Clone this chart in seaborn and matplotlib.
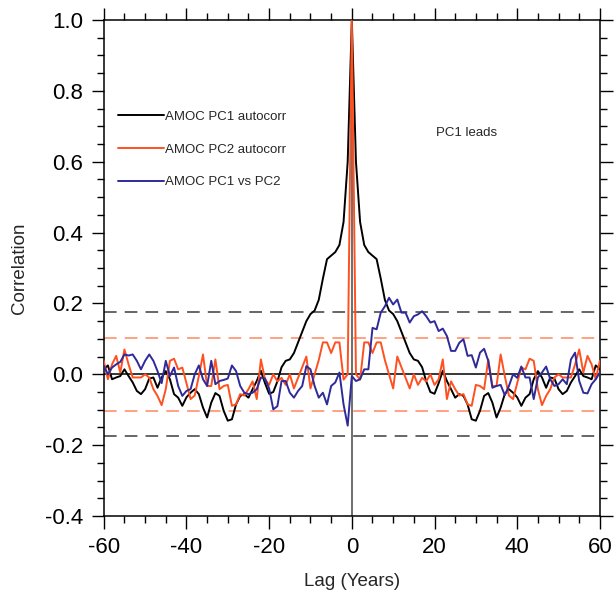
import numpy as np
import pandas as pd
import seaborn as sns
import matplotlib
matplotlib.use("Agg")
from matplotlib import pyplot as plt
from matplotlib.ticker import MultipleLocator

# lags in years
lags = list(range(-60, 61))

# one-sided autocorrelations (lag 0..60), mirrored for negative lags
pc1_acf_half = [1.0, 0.60, 0.43, 0.365, 0.345, 0.335, 0.325, 0.27, 0.21, 0.18,
                0.17, 0.15, 0.12, 0.09, 0.06, 0.042, 0.038, 0.02, -0.02, -0.05,
                -0.055, -0.025, 0.010, -0.019, -0.042, -0.066, -0.056, -0.061, -0.085, -0.127,
                -0.131, -0.103, -0.061, -0.053, -0.080, -0.122, -0.094, -0.056, -0.042, -0.052,
                -0.065, -0.089, -0.066, -0.056, -0.014, 0.009, -0.009, -0.038, -0.009, -0.012,
                -0.042, -0.056, -0.047, -0.023, -0.005, 0.014, -0.005, -0.009, -0.014, 0.025,
                0.014]
pc2_acf_half = [1.0, 0.0, -0.015, 0.09, 0.09, 0.06, 0.09, 0.09, 0.04, 0.0,
                -0.04, 0.05, 0.02, -0.01, -0.04, 0.0, -0.03, -0.01, -0.02, 0.0,
                -0.03, -0.014, 0.042, -0.07, -0.02, -0.042, -0.06, -0.056, -0.085, -0.089,
                -0.03, -0.033, -0.042, 0.042, -0.033, -0.033, 0.056, -0.005, -0.06, -0.07,
                -0.025, 0.019, 0.014, 0.044, 0.038, -0.042, -0.087, -0.061, -0.042, -0.009,
                0.0, -0.009, -0.009, -0.009, 0.028, 0.07, 0.005, 0.052, 0.028, -0.014,
                0.038]
# cross-correlation PC1 vs PC2, lag -60..60
pc1_pc2 = [0.024, 0.0, 0.019, 0.028, 0.035, 0.056, 0.053, 0.056, 0.038, 0.014,
           0.038, 0.056, 0.038, 0.009, -0.025, 0.038, -0.005, 0.019, -0.033, -0.061,
           -0.047, -0.042, 0.0, 0.025, -0.014, -0.033, 0.038, -0.028, -0.019, -0.016,
           -0.012, 0.025, 0.009, -0.033, -0.052, -0.056, -0.052, -0.042, -0.009, -0.012,
           -0.04, -0.099, -0.09, -0.019, -0.019, -0.052, -0.066, -0.047, -0.033, 0.023,
           0.014, -0.033, -0.066, -0.052, -0.085, -0.033, -0.023, 0.005, -0.085, -0.145,
           -0.005, -0.019, -0.014, 0.014, 0.014, 0.131, 0.127, 0.174, 0.192, 0.216,
           0.197, 0.211, 0.174, 0.174, 0.146, 0.164, 0.169, 0.178, 0.164, 0.146,
           0.150, 0.122, 0.129, 0.108, 0.066, 0.066, 0.089, 0.099, 0.052, 0.054,
           0.019, 0.061, 0.072, 0.038, -0.038, -0.033, -0.03, -0.059, -0.033, 0.0,
           -0.01, 0.022, -0.009, -0.009, -0.07, -0.009, 0.005, 0.022, -0.014, -0.033,
           -0.028, -0.014, -0.028, 0.042, 0.061, -0.019, -0.052, -0.054, -0.028, -0.014,
           0.005]

sig_pc1 = 0.175
sig_pc2 = 0.103

pc1_acf = pc1_acf_half[:0:-1] + pc1_acf_half
pc2_acf = pc2_acf_half[:0:-1] + pc2_acf_half

sns.set_style("ticks")
plt.rcParams['font.family'] = ['Liberation Sans', 'DejaVu Sans']
plt.rcParams['axes.unicode_minus'] = False

fig = plt.figure(figsize=(6.14, 5.95), dpi=100)
ax = fig.add_axes([0.169, 0.1328, 0.808, 0.8335])

# significance levels
for s in (sig_pc1, -sig_pc1):
    ax.axhline(s, color='#5a5a5a', lw=1.3, dashes=(7, 4.5), zorder=1)
for s in (sig_pc2, -sig_pc2):
    ax.axhline(s, color='#ff9a7a', lw=1.3, dashes=(7, 4.5), zorder=1)
ax.axhline(0, color='black', lw=1.1, zorder=1)
ax.axvline(0, color='#555555', lw=1.2, zorder=1)

sns.lineplot(x=lags, y=pc1_acf, color='black', lw=1.4, label='AMOC PC1 autocorr', ax=ax, zorder=3)
sns.lineplot(x=lags, y=pc2_acf, color='#ff5020', lw=1.4, label='AMOC PC2 autocorr', ax=ax, zorder=3)
sns.lineplot(x=lags, y=pc1_pc2, color='#2e2a9a', lw=1.4, label='AMOC PC1 vs PC2', ax=ax, zorder=3)

ax.set_xlim(-60, 60)
ax.set_ylim(-0.4, 1.0)
ax.xaxis.set_major_locator(MultipleLocator(20))
ax.xaxis.set_minor_locator(MultipleLocator(5))
ax.yaxis.set_major_locator(MultipleLocator(0.2))
ax.yaxis.set_minor_locator(MultipleLocator(0.05))
ax.set_yticklabels([f"{v:.1f}" for v in ax.get_yticks()])
ax.tick_params(which='both', direction='out', top=True, right=True, width=1, colors='black')
ax.tick_params(which='major', length=9, labelsize=16, pad=6)
ax.tick_params(which='minor', length=5)
for sp in ax.spines.values():
    sp.set_color('black')
    sp.set_linewidth(1.1)

ax.set_xlabel('Lag (Years)', fontsize=13.5, labelpad=11)
ax.set_ylabel('Correlation', fontsize=13.5, labelpad=12)

ax.legend(loc='upper left', bbox_to_anchor=(0.028, 0.817), frameon=False, fontsize=9.5,
          handlelength=3.5, handletextpad=0.1, labelspacing=1.55, borderpad=0, borderaxespad=0)
ax.text(0.67, 0.773, 'PC1 leads', transform=ax.transAxes, fontsize=9.5, ha='left', va='center')

fig.savefig('out.png', dpi=100)
